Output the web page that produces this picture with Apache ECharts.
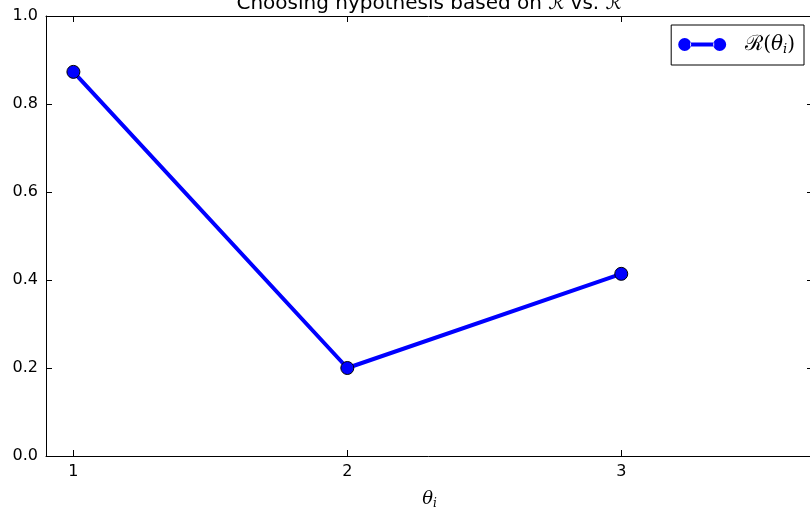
<!DOCTYPE html>
<html>
<head>
<meta charset="utf-8">
<script src="https://cdn.jsdelivr.net/npm/echarts@6/dist/echarts.min.js"></script>
<style>
  html, body { margin: 0; padding: 0; background: #fff; }
  #chart { width: 810px; height: 507px; }
</style>
</head>
<body>
<div id="chart"></div>
<script>
// data
const thetaValues = [1, 2, 3]
const riskValues = [0.873, 0.2, 0.414]
const xTicks = [1, 2, 3]
const yTicks = [0, 0.2, 0.4, 0.6, 0.8, 1.0]

const font = 'DejaVu Sans'
const mathFont = 'DejaVu Serif'

const seriesData = thetaValues.map((t, i) => [t, riskValues[i]])

const chart = echarts.init(document.getElementById('chart'))

const tickStyle = { lineStyle: { color: '#000', width: 1 } }

const option = {
  backgroundColor: '#fff',
  animation: false,
  title: {
    text: 'Choosing hypothesis based on ℛ vs. ℛ̂',
    left: 424,
    textAlign: 'center',
    top: -11,
    textStyle: { fontFamily: font, fontSize: 20, fontWeight: 'normal', color: '#000' }
  },
  grid: { left: 46, right: -3, top: 16, bottom: 51, outerBoundsMode: 'none', containLabel: false },
  legend: {
    right: 6,
    top: 25,
    orient: 'vertical',
    borderColor: '#000',
    borderWidth: 1,
    borderRadius: 0,
    padding: [9, 9, 9, 7],
    itemWidth: 48,
    itemHeight: 13,
    itemGap: 10,
    icon: 'path://M0,6.5a6.5,6.5 0 1,0 13,0a6.5,6.5 0 1,0 -13,0ZM35,6.5a6.5,6.5 0 1,0 13,0a6.5,6.5 0 1,0 -13,0ZM12,4.5h24v4h-24Z',
    itemStyle: { color: '#0000ff', borderWidth: 0 },
    formatter: () => '{r|ℛ}{m|(}{t|θ}{s|i}{m|)}',
    textStyle: {
      color: '#000',
      padding: [0, 0, 0, 14],
      rich: {
        r: { fontFamily: mathFont, fontSize: 21, color: '#000' },
        m: { fontFamily: mathFont, fontSize: 20, color: '#000' },
        t: { fontFamily: mathFont, fontStyle: 'italic', fontSize: 20, color: '#000' },
        s: { fontFamily: mathFont, fontStyle: 'italic', fontSize: 13, color: '#000', padding: [10, 0, 0, 0] }
      }
    }
  },
  xAxis: [
    {
      type: 'value',
      min: 0.9,
      max: 3.7,
      position: 'bottom',
      name: '{m|θ}{s|i}',
      nameLocation: 'middle',
      nameGap: 32,
      nameTextStyle: {
        rich: {
          m: { fontFamily: mathFont, fontStyle: 'italic', fontSize: 18, color: '#000' },
          s: { fontFamily: mathFont, fontStyle: 'italic', fontSize: 12, color: '#000', padding: [10, 0, 0, 0] }
        }
      },
      axisLine: { show: true, onZero: false, lineStyle: { color: '#000', width: 1 } },
      axisTick: { show: true, inside: true, length: 6, customValues: xTicks, ...tickStyle },
      axisLabel: {
        customValues: xTicks,
        margin: 8,
        fontFamily: font,
        fontSize: 16,
        color: '#000',
        formatter: v => String(v)
      },
      splitLine: { show: false }
    },
    {
      type: 'value',
      min: 0.9,
      max: 3.7,
      position: 'top',
      axisLine: { show: true, onZero: false, lineStyle: { color: '#000', width: 1 } },
      axisTick: { show: true, inside: true, length: 6, customValues: xTicks, ...tickStyle },
      axisLabel: { show: false },
      splitLine: { show: false }
    }
  ],
  yAxis: [
    {
      type: 'value',
      min: 0,
      max: 1,
      interval: 0.2,
      position: 'left',
      axisLine: { show: true, onZero: false, lineStyle: { color: '#000', width: 1 } },
      axisTick: { show: true, inside: true, length: 6, ...tickStyle },
      axisLabel: {
        margin: 8,
        fontFamily: font,
        fontSize: 16,
        color: '#000',
        formatter: v => v.toFixed(1)
      },
      splitLine: { show: false }
    },
    {
      type: 'value',
      min: 0,
      max: 1,
      interval: 0.2,
      position: 'right',
      axisLine: { show: true, onZero: false, lineStyle: { color: '#000', width: 1 } },
      axisTick: { show: true, inside: true, length: 6, ...tickStyle },
      axisLabel: { show: false },
      splitLine: { show: false }
    }
  ],
  series: [
    {
      name: 'R(theta_i)',
      type: 'line',
      xAxisIndex: 0,
      yAxisIndex: 0,
      data: seriesData,
      symbol: 'circle',
      symbolSize: 13,
      lineStyle: { color: '#0000ff', width: 4 },
      itemStyle: { color: '#0000ff', borderColor: '#000', borderWidth: 1 },
      z: 3
    }
  ]
}

chart.setOption(option)
</script>
</body>
</html>
